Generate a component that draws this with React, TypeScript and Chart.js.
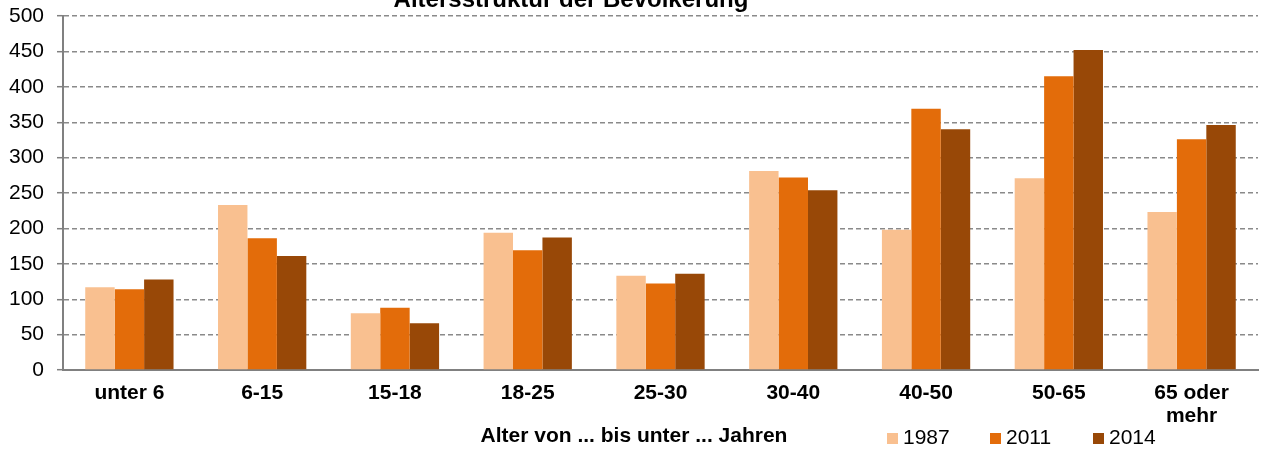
import React, { useEffect, useRef } from "react";
import { Chart, registerables } from "chart.js";

Chart.register(...registerables);

const TITLE = "Altersstruktur der Bevölkerung";
const X_TITLE = "Alter von ... bis unter ... Jahren";
const categories: (string | string[])[] = [
  "unter 6",
  "6-15",
  "15-18",
  "18-25",
  "25-30",
  "30-40",
  "40-50",
  "50-65",
  ["65 oder", "mehr"],
];
const seriesNames = ["1987", "2011", "2014"];
const values1987 = [117, 233, 80, 194, 133, 281, 198, 271, 223];
const values2011 = [114, 186, 88, 169, 122, 272, 369, 415, 326];
const values2014 = [128, 161, 66, 187, 136, 254, 340, 452, 346];
const colors = ["#F9C090", "#E36C0A", "#984807"];
const yMin = 0;
const yMax = 500;
const yStep = 50;

const FONT = '"Liberation Sans", Arial, sans-serif';

const overlayPlugin = {
  id: "overlay",
  afterDraw(chart: any) {
    const ctx = chart.ctx;
    ctx.save();
    ctx.fillStyle = "#000";
    ctx.font = `bold 24px ${FONT}`;
    ctx.textAlign = "center";
    ctx.textBaseline = "alphabetic";
    ctx.fillText(TITLE, 571, 7);
    ctx.font = `bold 21px ${FONT}`;
    ctx.textBaseline = "middle";
    ctx.fillText(X_TITLE, 634, 436);
    ctx.font = `21px ${FONT}`;
    ctx.textAlign = "left";
    chart.data.datasets.forEach((ds: any, i: number) => {
      const bx = 887 + i * 103;
      ctx.fillStyle = ds.backgroundColor;
      ctx.fillRect(bx, 433, 11, 11);
      ctx.fillStyle = "#000";
      ctx.fillText(ds.label, bx + 16, 438);
    });
    ctx.restore();
  },
};

export default function App() {
  const canvasRef = useRef<HTMLCanvasElement | null>(null);

  useEffect(() => {
    if (!canvasRef.current) return;
    const chart = new Chart(canvasRef.current, {
      type: "bar",
      data: {
        labels: categories,
        datasets: [values1987, values2011, values2014].map((vals, i) => ({
          label: seriesNames[i],
          data: vals,
          backgroundColor: colors[i],
          borderWidth: 0,
          categoryPercentage: 0.665,
          barPercentage: 1.0,
        })),
      },
      options: {
        animation: false,
        responsive: false,
        maintainAspectRatio: false,
        layout: { padding: { top: 0, right: 5, bottom: 0, left: 0 } },
        plugins: {
          legend: { display: false },
          title: { display: false },
          tooltip: { enabled: false },
        },
        scales: {
          x: {
            grid: { display: false, drawTicks: false },
            border: { display: true, color: "#808080", width: 2 },
            ticks: {
              color: "#000",
              padding: 12,
              maxRotation: 0,
              autoSkip: false,
              font: { family: FONT, size: 21, weight: "bold", lineHeight: 1.1 },
            },
            afterFit(scale: any) {
              scale.height = 80;
            },
          },
          y: {
            min: yMin,
            max: yMax,
            grid: {
              color: "#8a8a8a",
              lineWidth: 1.4,
              drawTicks: true,
              tickLength: 6,
              tickColor: "#808080",
              tickWidth: 1.5,
              tickBorderDash: [],
            },
            border: { display: true, color: "#808080", width: 2, dash: [5, 3] },
            ticks: {
              stepSize: yStep,
              color: "#000",
              padding: 13,
              font: { family: FONT, size: 21 },
            },
            afterFit(scale: any) {
              scale.width = 63;
              scale.paddingTop = 16;
              scale.paddingBottom = 0;
            },
          },
        },
      },
      plugins: [overlayPlugin],
    });
    return () => chart.destroy();
  }, []);

  return (
    <div style={{ position: "absolute", left: 0, top: 0, width: 1263, height: 450, background: "#fff" }}>
      <canvas ref={canvasRef} width={1263} height={450} style={{ display: "block", width: 1263, height: 450 }} />
    </div>
  );
}
